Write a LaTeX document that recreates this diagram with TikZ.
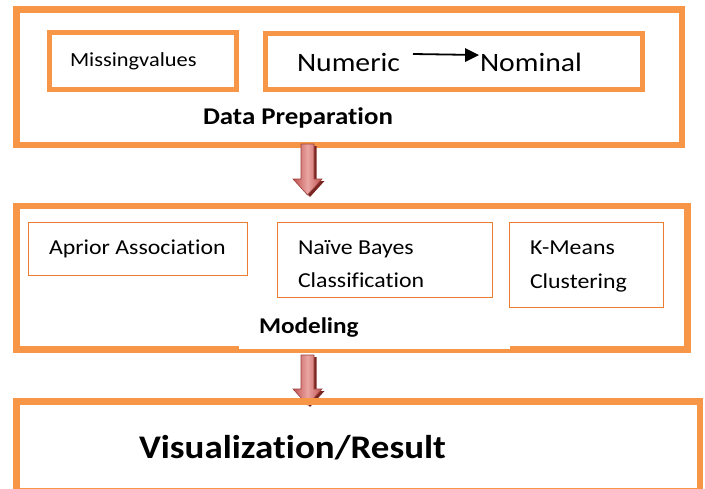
\documentclass[tikz,border=0pt]{standalone}
\usepackage{fontspec}
\setmainfont{Carlito}
\usetikzlibrary{arrows.meta}
\newfontfamily\txt[FakeStretch=1.12, Ligatures=NoCommon, RawFeature={-liga;-clig;-dlig}]{Carlito}
\definecolor{orng}{HTML}{F79646}
\definecolor{orngthin}{HTML}{EC7C30}
\definecolor{arrred}{HTML}{C0504D}
\definecolor{arrlight}{HTML}{E9A5A3}
\definecolor{arrdark}{HTML}{7B2523}
\tikzset{
  bigbox/.style={draw=orng, line width=6.5pt, rectangle, inner sep=0pt, outer sep=0pt},
  midbox/.style={draw=orng, line width=5pt, rectangle, inner sep=0pt, outer sep=0pt},
  thinbox/.style={draw=orngthin, line width=1pt, rectangle, inner sep=0pt, outer sep=0pt},
  lbl/.style={anchor=base west, inner sep=0pt, outer sep=0pt, font=\txt},
}
\newcommand{\blockarrow}[3]{% x, top y, tip y
  \fill[arrdark] (#1-6.5+2.5,#2+2) -- (#1+6.5+2.5,#2+2) -- (#1+6.5+2.5,#3-16+2) -- (#1+14.5+2.5,#3-16+2) -- (#1+2.5,#3+2) -- (#1-14.5+2.5,#3-16+2) -- (#1-6.5+2.5,#3-16+2) -- cycle;
  \shade[left color=arrred, right color=arrred, middle color=arrlight] (#1-6.5,#2) -- (#1+6.5,#2) -- (#1+6.5,#3-16) -- (#1+14.5,#3-16) -- (#1,#3) -- (#1-14.5,#3-16) -- (#1-6.5,#3-16) -- cycle;
  \draw[arrred!80!black, line width=0.6pt] (#1-6.5,#2) -- (#1+6.5,#2) -- (#1+6.5,#3-16) -- (#1+14.5,#3-16) -- (#1,#3) -- (#1-14.5,#3-16) -- (#1-6.5,#3-16) -- cycle;
}
\begin{document}
\begin{tikzpicture}[x=1pt,y=-1pt]
\useasboundingbox (0,0) rectangle (705,488);
\fill[white] (0,0) rectangle (705,488);
% Data preparation
\node[bigbox, minimum width=665.5pt, minimum height=135.5pt] (prep) at (349.25,77.25) {};
\node[midbox, minimum width=186.5pt, minimum height=57pt] (miss) at (142.75,61) {};
\node[midbox, minimum width=376.5pt, minimum height=56pt] (conv) at (453.75,61) {};
\node[lbl, font=\txt\fontsize{20}{24}\selectfont] (misst) at (70,66) {Missingvalues};
\node[lbl, font=\txt\fontsize{26.5}{32}\selectfont] (num) at (297,71) {Numeric};
\node[lbl, font=\txt\fontsize{26.5}{32}\selectfont] (nom) at (480,71) {Nominal};
\coordinate (numr) at (413,54);
\coordinate (noml) at (479,55);
\draw[line width=1.8pt, shorten >=11pt] (numr) -- (noml);
\fill (noml) -- ++(-14,-7) -- ++(0,14) -- cycle;
\node[lbl, font=\txt\bfseries\fontsize{24}{29}\selectfont] (prept) at (203,124) {Data Preparation};
% arrow 1
\blockarrow{307.5}{144}{195}
% Modeling
\node[bigbox, minimum width=671pt, minimum height=143.5pt] (model) at (352,277.75) {};
\fill[white] (239,300) rectangle (510,349);
\node[thinbox, minimum width=219pt, minimum height=53pt] (apr) at (138,249) {};
\node[thinbox, minimum width=215pt, minimum height=75pt] (nb) at (385,260) {};
\node[thinbox, minimum width=153.5pt, minimum height=85pt] (km) at (586.25,265) {};
\node[lbl, font=\txt\fontsize{21.3}{26}\selectfont] (aprt) at (49,254) {Aprior Association};
\node[lbl, font=\txt\fontsize{21.3}{26}\selectfont] (nbt1) at (298,254) {Naïve Bayes};
\node[lbl, font=\txt\fontsize{21.3}{26}\selectfont] (nbt2) at (298,287) {Classification};
\node[lbl, font=\txt\fontsize{21.3}{26}\selectfont] (kmt1) at (530,254) {K-Means};
\node[lbl, font=\txt\fontsize{21.3}{26}\selectfont] (kmt2) at (530,288) {Clustering};
\node[lbl, font=\txt\bfseries\fontsize{22.5}{27}\selectfont] (modt) at (259,333) {Modeling};
% arrow 2
\blockarrow{307.5}{355}{405}
% Result
\node[bigbox, minimum width=683.5pt, minimum height=89.5pt] (res) at (358.25,446.25) {};
\node[lbl, font=\txt\bfseries\fontsize{33}{40}\selectfont] (rest) at (139,458) {Visualization/Result};
\end{tikzpicture}
\end{document}
